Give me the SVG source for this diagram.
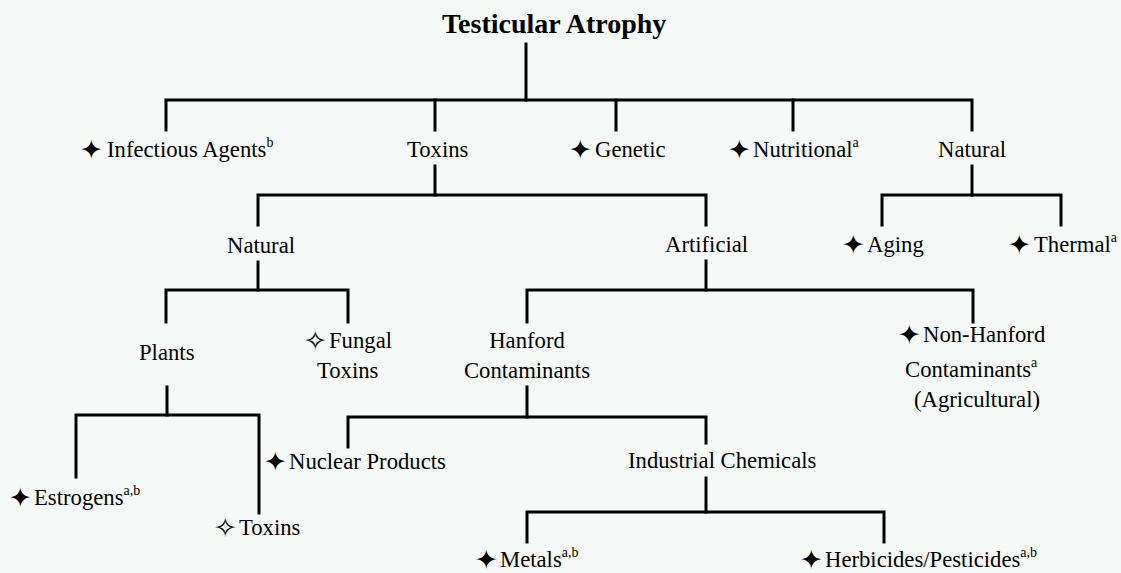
<svg xmlns="http://www.w3.org/2000/svg" width="1121" height="573" viewBox="0 0 1121 573">
<style>
text{font-family:"Liberation Serif","Times New Roman",serif;font-size:22.7px;fill:#000}
.t{font-weight:bold;font-size:28px}
.s{font-family:"DejaVu Sans",sans-serif;font-size:27px}
.sup{font-size:14px}
.m{text-anchor:middle}
.c path{fill:none;stroke:#000;stroke-width:3;stroke-linecap:square;stroke-linejoin:miter}
</style>
<rect width="1121" height="573" fill="#f7f9f9"/>
<g class="c" id="connectors">
<path d="M526 44V100"/>
<path d="M166 130V100H972V130"/>
<path d="M435 100V130M616 100V130M793 100V130"/>
<path d="M435 166V195"/>
<path d="M258 225V195H706V225"/>
<path d="M972 166V195"/>
<path d="M882 225V195H1061V225"/>
<path d="M258 262V290"/>
<path d="M166 322V290H348V322"/>
<path d="M706 261V290"/>
<path d="M527 322V290H973V322"/>
<path d="M167 387V415"/>
<path d="M76 477V415H259V513"/>
<path d="M527 387V417"/>
<path d="M348 447V417H706V443"/>
<path d="M706 478V512"/>
<path d="M527 542V512H884V542"/>
</g>
<g id="title"><text class="t" x="442" y="33">Testicular Atrophy</text></g>
<g id="infectious"><text class="s" x="80" y="159">✦</text><text x="107" y="157">Infectious Agents<tspan class="sup" dy="-10">b</tspan></text></g>
<g id="toxins"><text x="407" y="157">Toxins</text></g>
<g id="genetic"><text class="s" x="569" y="159">✦</text><text x="595" y="157">Genetic</text></g>
<g id="nutritional"><text class="s" x="728" y="159">✦</text><text x="753" y="157">Nutritional<tspan class="sup" dy="-10">a</tspan></text></g>
<g id="natural-other"><text x="938" y="157">Natural</text></g>
<g id="natural-toxins"><text x="227" y="253">Natural</text></g>
<g id="artificial"><text x="665" y="252">Artificial</text></g>
<g id="aging"><text class="s" x="842" y="254">✦</text><text x="867" y="252">Aging</text></g>
<g id="thermal"><text class="s" x="1008" y="254">✦</text><text x="1034" y="252">Thermal<tspan class="sup" dy="-10">a</tspan></text></g>
<g id="plants"><text x="139" y="360">Plants</text></g>
<g id="fungal"><text class="s" x="304" y="350">✧</text><text x="329" y="348">Fungal</text><text x="317" y="378">Toxins</text></g>
<g id="hanford"><text class="m" x="527" y="348">Hanford</text><text class="m" x="527" y="378">Contaminants</text></g>
<g id="non-hanford"><text class="s" x="898" y="344">✦</text><text x="923" y="342">Non-Hanford</text><text x="905" y="377">Contaminants<tspan class="sup" dy="-10">a</tspan></text><text x="914" y="407">(Agricultural)</text></g>
<g id="estrogens"><text class="s" x="9" y="507">✦</text><text x="34" y="505">Estrogens<tspan class="sup" dy="-10">a,b</tspan></text></g>
<g id="plant-toxins"><text class="s" x="214" y="537">✧</text><text x="239" y="535">Toxins</text></g>
<g id="nuclear"><text class="s" x="264" y="471">✦</text><text x="289" y="469">Nuclear Products</text></g>
<g id="industrial"><text x="628" y="468">Industrial Chemicals</text></g>
<g id="metals"><text class="s" x="475" y="569">✦</text><text x="500" y="567">Metals<tspan class="sup" dy="-10">a,b</tspan></text></g>
<g id="herbicides"><text class="s" x="800" y="569">✦</text><text x="825" y="567">Herbicides/Pesticides<tspan class="sup" dy="-10">a,b</tspan></text></g>
</svg>
